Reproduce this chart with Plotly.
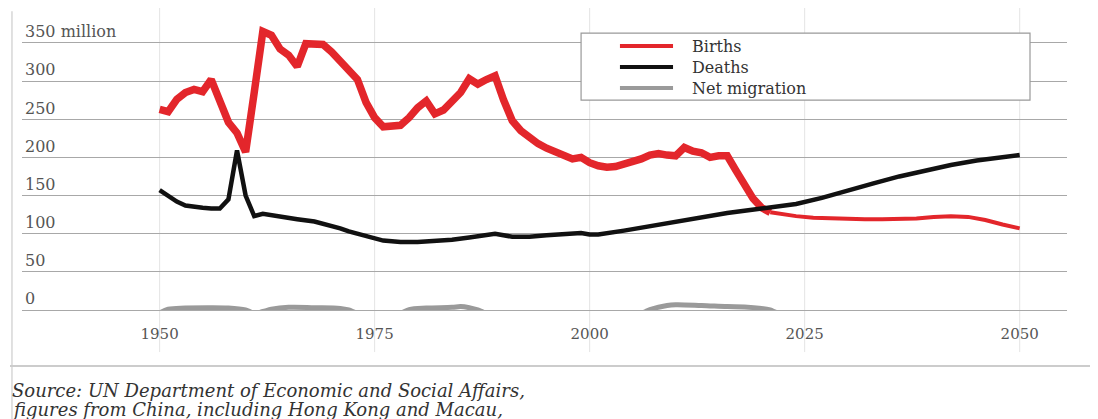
import plotly.graph_objects as go

# births, millions (historical part drawn thicker)
birth_years = [1950, 1951, 1952, 1953, 1954, 1955, 1956, 1957, 1958, 1959, 1960, 1961, 1962, 1963,
               1964, 1965, 1966, 1967, 1968, 1969, 1970, 1971, 1972, 1973, 1974, 1975, 1976, 1977,
               1978, 1979, 1980, 1981, 1982, 1983, 1984, 1985, 1986, 1987, 1988, 1989, 1990, 1991,
               1992, 1993, 1994, 1995, 1996, 1997, 1998, 1999, 2000, 2001, 2002, 2003, 2004, 2005,
               2006, 2007, 2008, 2009, 2010, 2011, 2012, 2013, 2014, 2015, 2016, 2017, 2018, 2019,
               2020, 2021]
births = [263, 260, 276, 285, 289, 286, 302, 276, 246, 232, 207, 285, 365, 360, 342, 334, 319, 349,
          348, 348, 338, 327, 316, 302, 272, 252, 240, 240, 242, 252, 265, 274, 257, 262, 272, 285,
          303, 296, 302, 307, 275, 248, 235, 226, 218, 212, 207, 202, 198, 200, 193, 189, 187, 188,
          191, 194, 198, 203, 205, 203, 202, 213, 208, 206, 200, 202, 202, 183, 162, 146, 134, 128]

proj_years = [2021, 2022, 2024, 2026, 2028, 2030, 2032, 2034, 2036, 2038, 2040, 2042, 2044, 2046,
              2048, 2050]
births_proj = [128, 126, 123, 121, 120, 120, 119, 119, 119, 120, 122, 123, 122, 118, 112, 107]

death_years = [1950, 1951, 1952, 1953, 1954, 1955, 1956, 1957, 1958, 1959, 1960, 1961, 1962, 1964,
               1966, 1968, 1970, 1971, 1972, 1973, 1974, 1975, 1976, 1977, 1978, 1980, 1982, 1984,
               1986, 1988, 1989, 1991, 1993, 1995, 1997, 1999, 2000, 2001, 2004, 2008, 2012, 2016,
               2020, 2024, 2027, 2030, 2033, 2036, 2039, 2042, 2045, 2048, 2050]
deaths = [157, 150, 142, 137, 135, 134, 133, 133, 145, 209, 150, 123, 126, 122, 119, 116, 111, 107,
          103, 100, 96, 93, 91, 90, 89, 89, 90, 92, 95, 98, 100, 96, 96, 98, 100, 101, 99, 99, 104,
          112, 119, 127, 133, 139, 147, 157, 166, 175, 183, 190, 196, 200, 203]

mig_years = [1950, 1951, 1953, 1956, 1958, 1960, 1961, 1962, 1963, 1965, 1968, 1971, 1972, 1973,
             1978, 1979, 1981, 1984, 1985, 1986, 1987, 1988, 2006, 2007, 2009, 2010, 2013, 2016,
             2018, 2020, 2021, 2022, 2050]
net_migration = [-4, 1, 2.5, 3, 2.5, 0, -4, -2, 1, 3.5, 3, 2, 0, -4, -4, 0.5, 2.5, 3.5, 4.5, 3, 0,
                 -4, -4, 0.5, 6, 7, 6, 4.5, 4, 2, 0, -4, -4]

x_ticks = [1950, 1975, 2000, 2025, 2050]
y_ticks = [0, 50, 100, 150, 200, 250, 300, 350]
y_labels = ["0", "50", "100", "150", "200", "250", "300", "350 million"]

legend_names = ["Births", "Deaths", "Net migration"]
legend_colors = ["#e3262b", "#111111", "#9a9a9a"]

RED = "#e3262b"
SERIF = "DejaVu Serif"

fig = go.Figure()

fig.add_trace(go.Scatter(x=birth_years, y=births, mode="lines", name="Births",
                         line=dict(color=RED, width=7.5)))
fig.add_trace(go.Scatter(x=proj_years, y=births_proj, mode="lines", name="Births",
                         line=dict(color=RED, width=4)))
fig.add_trace(go.Scatter(x=death_years, y=deaths, mode="lines", name="Deaths",
                         line=dict(color="#111111", width=4.5)))
fig.add_trace(go.Scatter(x=mig_years, y=net_migration, mode="lines", name="Net migration",
                         line=dict(color="#9a9a9a", width=5, shape="spline")))

# vertical gridlines run past the plot area, as in the original
for yr in x_ticks:
    fig.add_shape(type="line", xref="x", yref="paper", x0=yr, x1=yr, y0=-0.145, y1=1.07,
                  line=dict(color="#e4e4e4", width=1), layer="below")

# legend box, drawn by hand so the rows can sit close together
fig.add_shape(type="rect", xref="paper", yref="paper", x0=0.535, x1=0.9646, y0=0.724, y1=0.955,
              fillcolor="white", line=dict(color="#999999", width=1.2), layer="above")
row_y = [0.9103, 0.8379, 0.7655]
for name, col, yy in zip(legend_names, legend_colors, row_y):
    fig.add_shape(type="line", xref="paper", yref="paper", x0=0.5722, x1=0.623, y0=yy, y1=yy,
                  line=dict(color=col, width=4), layer="above")
    fig.add_annotation(text=name, xref="paper", yref="paper", x=0.639, y=yy, xanchor="left",
                       yanchor="middle", showarrow=False,
                       font=dict(family=SERIF, size=16, color="#333333"))

# rule above the source note and the page edge on the left
fig.add_shape(type="line", xref="paper", yref="paper", x0=-0.0115, x1=1.03, y0=-0.193, y1=-0.193,
              line=dict(color="#bbbbbb", width=1.5))
fig.add_shape(type="line", xref="paper", yref="paper", x0=-0.0096, x1=-0.0096, y0=-0.376, y1=1.03,
              line=dict(color="#cccccc", width=1.2))

fig.add_annotation(text="<i>Source: UN Department of Economic and Social Affairs,</i>",
                   xref="paper", yref="paper", x=-0.0115, y=-0.276, xanchor="left", yanchor="middle",
                   showarrow=False, font=dict(family=SERIF, size=18, color="#333333"))
fig.add_annotation(text="<i>figures from China, including Hong Kong and Macau,</i>",
                   xref="paper", yref="paper", x=-0.0115, y=-0.342, xanchor="left", yanchor="middle",
                   showarrow=False, font=dict(family=SERIF, size=18, color="#333333"))

# the page adds an 8px body margin, so the figure is 8px smaller each way
fig.update_layout(
    width=1090, height=411,
    margin=dict(l=14, r=31, t=12, b=109),
    paper_bgcolor="white", plot_bgcolor="white",
    font=dict(family=SERIF, color="#555555"),
    showlegend=False,
    xaxis=dict(range=[1934, 2055.5], tickvals=x_ticks, showgrid=False, zeroline=False,
               showline=True, linecolor="#a8a8a8", linewidth=1, ticks="",
               ticklabelstandoff=10, tickfont=dict(family=SERIF, size=15, color="#555555")),
    yaxis=dict(range=[0, 380], tickvals=y_ticks, ticktext=y_labels, showgrid=True,
               gridcolor="#a8a8a8", gridwidth=1, zeroline=False, ticks="",
               ticklabelposition="inside top", tickfont=dict(family=SERIF, size=16, color="#555555")),
)

fig.write_html("out.html")
